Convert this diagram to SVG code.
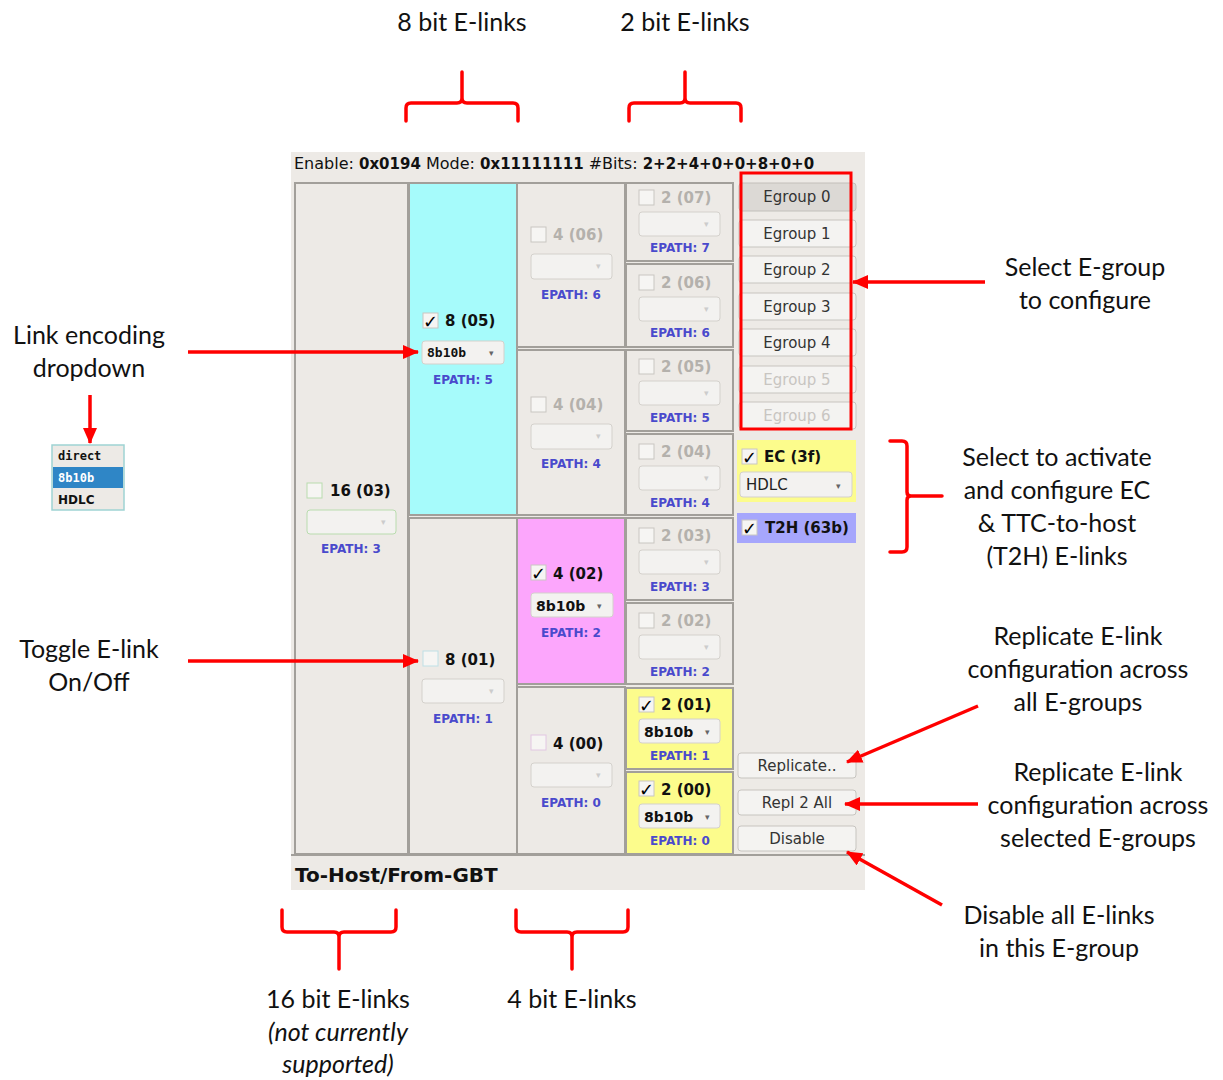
<svg xmlns="http://www.w3.org/2000/svg" width="1223" height="1080" viewBox="0 0 1223 1080">
<defs>
<marker id="ah" markerUnits="userSpaceOnUse" markerWidth="16" markerHeight="14" refX="15" refY="7" orient="auto">
<path d="M0,0 L16,7 L0,14 Z" fill="#ff0000"/>
</marker>
<style>
.ann{font-family:Lato,"Open Sans",sans-serif;font-size:25px;fill:#111;text-anchor:middle}
.it{font-style:italic}
.red{fill:none;stroke:#ff0000;stroke-width:3.5;stroke-linecap:round;stroke-linejoin:round}
.arr{fill:none;stroke:#ff0000;stroke-width:3.5}
.cell{fill:#edeae6;stroke:#a29f9a;stroke-width:2}
.lbl{font-family:"DejaVu Sans",sans-serif;font-size:15px;font-weight:bold;fill:#111}
.dis{fill:#b4b1ac}
.ep{font-family:"DejaVu Sans",sans-serif;font-size:12px;font-weight:bold;fill:#4a4acc;text-anchor:middle}
.cb{fill:#f6f5f3;stroke:#c9c6c1;stroke-width:1}
.dd{fill:#f3f2f0;stroke:#d4d1cc;stroke-width:1}
.ddt{font-family:"DejaVu Sans",sans-serif;font-size:14px;font-weight:bold;fill:#111}
.caret{font-family:"DejaVu Sans",sans-serif;font-size:9px;fill:#666}
.caretd{font-family:"DejaVu Sans",sans-serif;font-size:9px;fill:#cccccc}
.btn{fill:#f4f3f1;stroke:#c7c4bf;stroke-width:1}
.bt{font-family:"DejaVu Sans",sans-serif;font-size:15px;fill:#333;text-anchor:middle}
.btd{font-family:"DejaVu Sans",sans-serif;font-size:15px;fill:#c8c5c1;text-anchor:middle}
.chk{font-family:"DejaVu Sans",sans-serif;font-size:18px;font-weight:bold;fill:#000}
.hdr{font-family:"DejaVu Sans",sans-serif;font-size:16px;fill:#111}
.hdrb{font-family:"DejaVu Sans",sans-serif;font-size:15px;font-weight:bold;fill:#111}
</style>
</defs>
<rect width="1223" height="1080" fill="#ffffff"/>

<g id="panel">
<rect x="291" y="152" width="574" height="738" fill="#edeae6"/>
<text x="294" y="169"><tspan class="hdr">Enable: </tspan><tspan class="hdrb">0x0194</tspan><tspan class="hdr"> Mode: </tspan><tspan class="hdrb">0x11111111</tspan><tspan class="hdr"> #Bits: </tspan><tspan class="hdrb">2+2+4+0+0+8+0+0</tspan></text>
<line x1="291" y1="855" x2="865" y2="855" stroke="#a29f9a" stroke-width="2"/>
<text x="295" y="882" font-family="DejaVu Sans, sans-serif" font-size="20" font-weight="bold" fill="#111">To-Host/From-GBT</text>
</g>

<g id="elink16_03">
<rect class="cell" x="295" y="183" width="113" height="671"/>
<rect x="307" y="483" width="15" height="15" fill="#f6f5f3" stroke="#b9dcae"/>
<text class="lbl" x="330" y="496">16 (03)</text>
<rect x="307" y="510" width="89" height="24" rx="3" fill="#f3f2f0" stroke="#b9dcae"/>
<text class="caretd" x="381" y="525">▾</text>
<text class="ep" x="351" y="553">EPATH: 3</text>
</g>

<g id="elink8_05">
<rect x="409" y="183" width="108" height="332" fill="#a6fbfb" stroke="#a29f9a" stroke-width="2"/>
<rect class="cb" x="423" y="313" width="15" height="15"/>
<text class="chk" x="423" y="328">✓</text>
<text class="lbl" x="445" y="326">8 (05)</text>
<rect class="dd" x="422" y="341" width="82" height="23" rx="3"/>
<text x="427" y="357" font-family="DejaVu Sans Mono, monospace" font-size="13" font-weight="bold" fill="#111">8b10b</text>
<text class="caret" x="489" y="356">▾</text>
<text class="ep" x="463" y="384">EPATH: 5</text>
</g>

<g id="elink8_01">
<rect class="cell" x="409" y="518" width="108" height="336"/>
<rect x="423" y="651" width="15" height="15" fill="#f6f5f3" stroke="#bfe0e6"/>
<text class="lbl" x="445" y="665">8 (01)</text>
<rect class="dd" x="422" y="679" width="82" height="24" rx="3"/>
<text class="caretd" x="489" y="694">▾</text>
<text class="ep" x="463" y="723">EPATH: 1</text>
</g>

<g id="elink4_06">
<rect class="cell" x="517" y="183" width="108" height="164"/>
<rect class="cb" x="531" y="227" width="15" height="15"/>
<text class="lbl dis" x="553" y="240">4 (06)</text>
<rect class="dd" x="531" y="254" width="81" height="25" rx="3"/>
<text class="caretd" x="596" y="269">▾</text>
<text class="ep" x="571" y="299">EPATH: 6</text>
</g>

<g id="elink4_04">
<rect class="cell" x="517" y="350" width="108" height="165"/>
<rect class="cb" x="531" y="397" width="15" height="15"/>
<text class="lbl dis" x="553" y="410">4 (04)</text>
<rect class="dd" x="531" y="424" width="81" height="25" rx="3"/>
<text class="caretd" x="596" y="439">▾</text>
<text class="ep" x="571" y="468">EPATH: 4</text>
</g>

<g id="elink4_02">
<rect x="517" y="518" width="108" height="166" fill="#fca6fc" stroke="#a29f9a" stroke-width="2"/>
<rect class="cb" x="531" y="565" width="15" height="15"/>
<text class="chk" x="531" y="580">✓</text>
<text class="lbl" x="553" y="579">4 (02)</text>
<rect class="dd" x="531" y="593" width="82" height="24" rx="3"/>
<text class="ddt" x="536" y="611">8b10b</text>
<text class="caret" x="597" y="609">▾</text>
<text class="ep" x="571" y="637">EPATH: 2</text>
</g>

<g id="elink4_00">
<rect class="cell" x="517" y="687" width="108" height="167"/>
<rect x="531" y="735" width="15" height="15" fill="#f6f5f3" stroke="#e2c6e2"/>
<text class="lbl" x="553" y="749">4 (00)</text>
<rect class="dd" x="531" y="763" width="81" height="24" rx="3"/>
<text class="caretd" x="596" y="778">▾</text>
<text class="ep" x="571" y="807">EPATH: 0</text>
</g>

<g id="elink2_07">
<rect class="cell" x="626" y="183" width="107" height="78"/>
<rect class="cb" x="639" y="190" width="15" height="15"/>
<text class="lbl dis" x="661" y="203">2 (07)</text>
<rect class="dd" x="639" y="212" width="81" height="24" rx="3"/>
<text class="caretd" x="704" y="227">▾</text>
<text class="ep" x="680" y="252">EPATH: 7</text>
</g>
<g id="elink2_06">
<rect class="cell" x="626" y="264" width="107" height="83"/>
<rect class="cb" x="639" y="275" width="15" height="15"/>
<text class="lbl dis" x="661" y="288">2 (06)</text>
<rect class="dd" x="639" y="297" width="81" height="24" rx="3"/>
<text class="caretd" x="704" y="312">▾</text>
<text class="ep" x="680" y="337">EPATH: 6</text>
</g>
<g id="elink2_05">
<rect class="cell" x="626" y="350" width="107" height="81"/>
<rect class="cb" x="639" y="359" width="15" height="15"/>
<text class="lbl dis" x="661" y="372">2 (05)</text>
<rect class="dd" x="639" y="381" width="81" height="24" rx="3"/>
<text class="caretd" x="704" y="396">▾</text>
<text class="ep" x="680" y="422">EPATH: 5</text>
</g>
<g id="elink2_04">
<rect class="cell" x="626" y="434" width="107" height="81"/>
<rect class="cb" x="639" y="444" width="15" height="15"/>
<text class="lbl dis" x="661" y="457">2 (04)</text>
<rect class="dd" x="639" y="466" width="81" height="24" rx="3"/>
<text class="caretd" x="704" y="481">▾</text>
<text class="ep" x="680" y="507">EPATH: 4</text>
</g>
<g id="elink2_03">
<rect class="cell" x="626" y="518" width="107" height="82"/>
<rect class="cb" x="639" y="528" width="15" height="15"/>
<text class="lbl dis" x="661" y="541">2 (03)</text>
<rect class="dd" x="639" y="550" width="81" height="24" rx="3"/>
<text class="caretd" x="704" y="565">▾</text>
<text class="ep" x="680" y="591">EPATH: 3</text>
</g>
<g id="elink2_02">
<rect class="cell" x="626" y="603" width="107" height="81"/>
<rect class="cb" x="639" y="613" width="15" height="15"/>
<text class="lbl dis" x="661" y="626">2 (02)</text>
<rect class="dd" x="639" y="635" width="81" height="24" rx="3"/>
<text class="caretd" x="704" y="650">▾</text>
<text class="ep" x="680" y="676">EPATH: 2</text>
</g>
<g id="elink2_01">
<rect x="626" y="688" width="107" height="81" fill="#fcfc8c" stroke="#a29f9a" stroke-width="2"/>
<rect class="cb" x="639" y="697" width="15" height="15"/>
<text class="chk" x="639" y="712">✓</text>
<text class="lbl" x="661" y="710">2 (01)</text>
<rect class="dd" x="639" y="719" width="81" height="24" rx="3"/>
<text class="ddt" x="644" y="737">8b10b</text>
<text class="caret" x="705" y="735">▾</text>
<text class="ep" x="680" y="760">EPATH: 1</text>
</g>
<g id="elink2_00">
<rect x="626" y="772" width="107" height="82" fill="#fcfc8c" stroke="#a29f9a" stroke-width="2"/>
<rect class="cb" x="639" y="781" width="15" height="15"/>
<text class="chk" x="639" y="796">✓</text>
<text class="lbl" x="661" y="795">2 (00)</text>
<rect class="dd" x="639" y="804" width="81" height="24" rx="3"/>
<text class="ddt" x="644" y="822">8b10b</text>
<text class="caret" x="705" y="820">▾</text>
<text class="ep" x="680" y="845">EPATH: 0</text>
</g>

<g id="egroups">
<rect x="739" y="183" width="117" height="28" rx="3" fill="#dcd9d5" stroke="#c2bfba"/>
<text class="bt" x="797" y="202">Egroup 0</text>
<rect class="btn" x="739" y="220" width="117" height="27" rx="3"/>
<text class="bt" x="797" y="239">Egroup 1</text>
<rect class="btn" x="739" y="256" width="117" height="27" rx="3"/>
<text class="bt" x="797" y="275">Egroup 2</text>
<rect class="btn" x="739" y="293" width="117" height="27" rx="3"/>
<text class="bt" x="797" y="312">Egroup 3</text>
<rect class="btn" x="739" y="329" width="117" height="27" rx="3"/>
<text class="bt" x="797" y="348">Egroup 4</text>
<rect class="btn" x="739" y="366" width="117" height="27" rx="3"/>
<text class="btd" x="797" y="385">Egroup 5</text>
<rect class="btn" x="739" y="402" width="117" height="27" rx="3"/>
<text class="btd" x="797" y="421">Egroup 6</text>
<rect x="741" y="173" width="110" height="256" fill="none" stroke="#ff0000" stroke-width="3"/>
</g>

<g id="ec">
<rect x="737" y="440" width="119" height="62" fill="#fcfc8c"/>
<rect class="cb" x="742" y="449" width="15" height="15"/>
<text class="chk" x="742" y="464">✓</text>
<text class="lbl" x="764" y="462">EC (3f)</text>
<rect class="dd" x="740" y="472" width="112" height="25" rx="3"/>
<text x="746" y="490" font-family="DejaVu Sans, sans-serif" font-size="15" fill="#222">HDLC</text>
<text class="caret" x="836" y="489">▾</text>
</g>

<g id="t2h">
<rect x="737" y="513" width="119" height="30" fill="#a6a6fc"/>
<rect class="cb" x="742" y="520" width="15" height="15"/>
<text class="chk" x="742" y="535">✓</text>
<text class="lbl" x="765" y="533">T2H (63b)</text>
</g>

<g id="replicate">
<rect class="btn" x="738" y="753" width="118" height="25" rx="3"/>
<text class="bt" x="797" y="771">Replicate..</text>
</g>
<g id="repl2all">
<rect class="btn" x="738" y="790" width="118" height="25" rx="3"/>
<text class="bt" x="797" y="808">Repl 2 All</text>
</g>
<g id="disable">
<rect class="btn" x="738" y="826" width="118" height="25" rx="3"/>
<text class="bt" x="797" y="844">Disable</text>
</g>

<g id="popup">
<rect x="52" y="445" width="72" height="65" fill="#edeae6" stroke="#9fd3d3" stroke-width="1.5"/>
<rect x="53" y="467" width="70" height="21" fill="#2f86c6"/>
<text x="58" y="460" font-family="DejaVu Sans Mono, monospace" font-size="12" font-weight="bold" fill="#111">direct</text>
<text x="58" y="482" font-family="DejaVu Sans Mono, monospace" font-size="12" font-weight="bold" fill="#ffffff">8b10b</text>
<text x="58" y="504" font-family="DejaVu Sans, sans-serif" font-size="12" font-weight="bold" fill="#111">HDLC</text>
</g>

<g id="labels">
<text class="ann" x="462" y="31">8 bit E-links</text>
<text class="ann" x="685" y="31">2 bit E-links</text>
<text class="ann" x="89" y="344">Link encoding</text>
<text class="ann" x="89" y="377">dropdown</text>
<text class="ann" x="89" y="658">Toggle E-link</text>
<text class="ann" x="89" y="691">On/Off</text>
<text class="ann" x="1085" y="276">Select E-group</text>
<text class="ann" x="1085" y="309">to configure</text>
<text class="ann" x="1057" y="466">Select to activate</text>
<text class="ann" x="1057" y="499">and configure EC</text>
<text class="ann" x="1057" y="532">&amp; TTC-to-host</text>
<text class="ann" x="1057" y="565">(T2H) E-links</text>
<text class="ann" x="1078" y="645">Replicate E-link</text>
<text class="ann" x="1078" y="678">configuration across</text>
<text class="ann" x="1078" y="711">all E-groups</text>
<text class="ann" x="1098" y="781">Replicate E-link</text>
<text class="ann" x="1098" y="814">configuration across</text>
<text class="ann" x="1098" y="847">selected E-groups</text>
<text class="ann" x="1059" y="924">Disable all E-links</text>
<text class="ann" x="1059" y="957">in this E-group</text>
<text class="ann" x="338" y="1008">16 bit E-links</text>
<text class="ann it" x="338" y="1041">(not currently</text>
<text class="ann it" x="338" y="1073">supported)</text>
<text class="ann" x="572" y="1008">4 bit E-links</text>
</g>

<g id="connectors">
<path class="red" d="M406,121 L406,108 Q406,103 411,103 L457,103 Q462,103 462,98 L462,72 M462,98 Q462,103 467,103 L513,103 Q518,103 518,108 L518,121"/>
<path class="red" d="M629,121 L629,108 Q629,103 634,103 L680,103 Q685,103 685,98 L685,72 M685,98 Q685,103 690,103 L736,103 Q741,103 741,108 L741,121"/>
<path class="red" d="M282,910 L282,927 Q282,932 287,932 L334,932 Q339,932 339,937 L339,969 M339,937 Q339,932 344,932 L391,932 Q396,932 396,927 L396,910"/>
<path class="red" d="M516,910 L516,927 Q516,932 521,932 L567,932 Q572,932 572,937 L572,969 M572,937 Q572,932 577,932 L623,932 Q628,932 628,927 L628,910"/>
<path class="red" d="M890,441 L902,441 Q907,441 907,446 L907,492 Q907,496 911,496 L942,496 M911,496 Q907,496 907,500 L907,547 Q907,552 902,552 L890,552"/>
<line class="arr" x1="188" y1="352" x2="418" y2="352" marker-end="url(#ah)"/>
<line class="arr" x1="90" y1="395" x2="90" y2="443" marker-end="url(#ah)"/>
<line class="arr" x1="188" y1="661" x2="418" y2="661" marker-end="url(#ah)"/>
<line class="arr" x1="985" y1="282" x2="853" y2="282" marker-end="url(#ah)"/>
<line class="arr" x1="978" y1="706" x2="847" y2="762" marker-end="url(#ah)"/>
<line class="arr" x1="978" y1="804" x2="845" y2="804" marker-end="url(#ah)"/>
<line class="arr" x1="942" y1="905" x2="847" y2="852" marker-end="url(#ah)"/>
</g>
</svg>
